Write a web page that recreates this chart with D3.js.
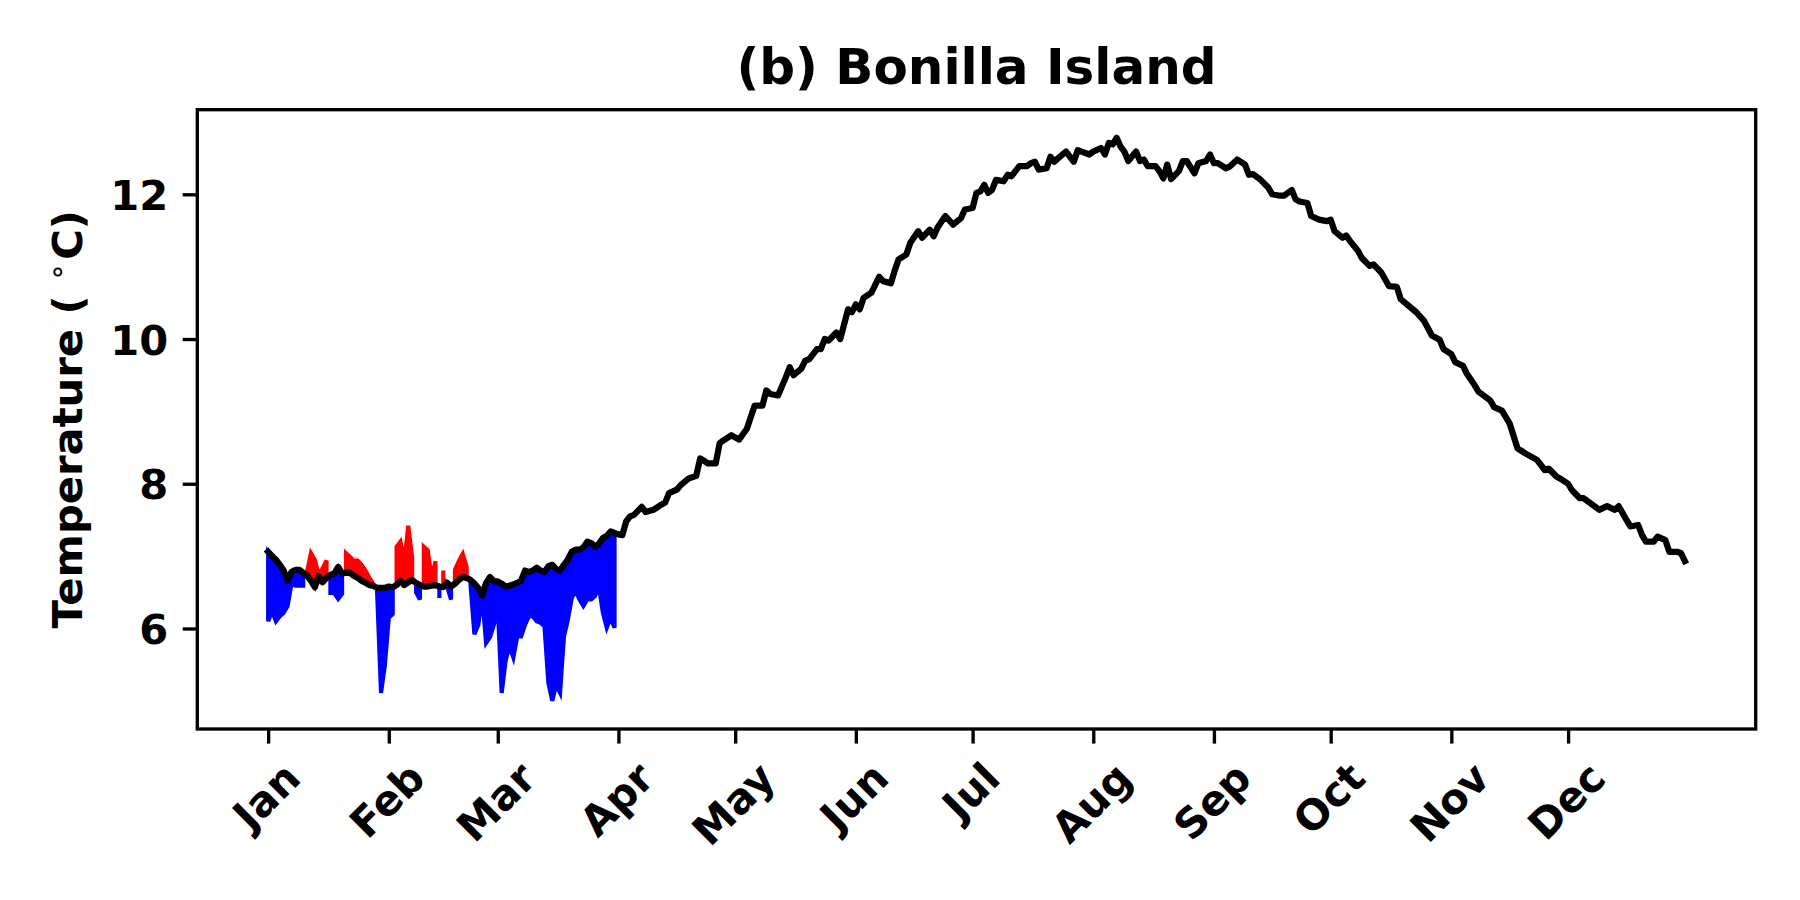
<!DOCTYPE html>
<html>
<head>
<meta charset="utf-8">
<script src="https://cdn.jsdelivr.net/npm/d3@7"></script>
<style>
html,body{margin:0;padding:0;background:#fff;}
svg{display:block;}
text{font-family:"DejaVu Sans",sans-serif;font-weight:bold;fill:#000;}
</style>
</head>
<body>
<svg id="chart" width="1800" height="900"></svg>
<script>
// ---------------- data ----------------
const chartTitle = "(b) Bonilla Island";
const monthLabels = ["Jan","Feb","Mar","Apr","May","Jun","Jul","Aug","Sep","Oct","Nov","Dec"];
const monthStartDays = [0,31,59,90,120,151,181,212,243,273,304,334];
const yTickValues = [6,8,10,12];

// climatology (black line): day of year (0 = Jan 1) and temperature
const climDays = [
  0,1,2,3,4,5,6,7,8,9,10,11,12,13,14,15,16,17,18,19,20,21,22,23,24,25,26,27,28,29,
  30,31,32,33,34,35,36,37,38,39,40,41,42,43,44,45,46,47,48,49,50,51,52,53,54,55,56,57,58,59,
  60,61,62,63,64,65,66,67,68,69,70,71,72,73,74,75,76,77,78,79,80,81,82,83,84,85,86,87,88,89,90,
  91,92,93,94,96,97,99,101,102,103,105,106,108,110,111,113,115,116,117,119,121,123,125,127,128,129,
  131,133,134,135,137,138,139,141,142,143,144,146,147,149,150,151,152,153,155,157,158,160,161,162,
  164,165,167,168,170,171,172,174,176,178,179,181,182,183,184,185,186,187,189,190,191,193,195,196,
  197,198,200,201,202,203,205,207,208,209,211,212,214,215,216,217,218,219,220,221,223,224,225,226,
  228,229,230,231,232,234,235,236,238,239,241,242,243,244,246,247,249,251,252,253,255,257,258,260,
  261,263,264,265,267,268,270,272,273,274,276,277,278,280,281,283,284,286,288,290,291,295,297,299,
  301,302,304,305,307,308,310,311,314,315,317,319,321,323,326,328,329,331,332,334,335,337,338,342,
  344,346,347,349,350,352,353,354,356,357,359,360,362,363,364
];
const climTemps = [
  7.06,7.00,6.95,6.88,6.80,6.66,6.78,6.81,6.81,6.77,6.73,6.66,6.57,6.72,6.64,6.70,6.74,6.76,6.85,6.76,
  6.77,6.77,6.73,6.70,6.66,6.63,6.60,6.59,6.56,6.56,
  6.56,6.58,6.57,6.60,6.66,6.60,6.64,6.67,6.63,6.60,6.58,6.58,6.59,6.60,6.58,6.57,6.63,6.58,6.62,6.67,
  6.71,6.70,6.67,6.62,6.56,6.46,6.63,6.71,6.65,6.65,
  6.62,6.58,6.59,6.61,6.63,6.66,6.80,6.78,6.80,6.84,6.80,6.78,6.86,6.88,6.82,6.80,6.88,6.95,7.06,7.09,
  7.09,7.12,7.20,7.18,7.13,7.17,7.25,7.28,7.34,7.32,7.30,
  7.29,7.48,7.55,7.57,7.68,7.61,7.64,7.71,7.74,7.87,7.92,7.98,8.07,8.11,8.35,8.28,8.28,8.56,8.60,8.67,
  8.61,8.76,9.08,9.08,9.29,9.24,
  9.22,9.47,9.61,9.50,9.59,9.70,9.72,9.86,9.86,10.00,9.98,10.09,10.00,10.41,10.37,10.48,10.41,10.57,10.64,10.86,
  10.80,10.77,10.95,11.10,
  11.17,11.33,11.49,11.40,11.51,11.42,11.54,11.70,11.58,11.67,11.79,11.81,12.02,12.04,12.13,12.02,12.06,12.20,12.18,12.27,
  12.25,12.39,12.39,12.43,
  12.45,12.34,12.36,12.52,12.45,12.50,12.59,12.45,12.61,12.59,12.55,12.59,12.64,12.55,12.71,12.69,12.78,12.66,12.59,12.46,
  12.59,12.46,12.48,12.39,
  12.39,12.32,12.22,12.41,12.21,12.32,12.46,12.46,12.29,12.43,12.46,12.55,12.43,12.43,12.36,12.38,12.48,12.41,12.27,12.28,
  12.20,12.09,12.00,11.98,
  11.98,12.06,11.93,11.90,11.88,11.70,11.65,11.63,11.65,11.49,11.40,11.43,11.35,11.22,11.12,11.01,11.03,10.92,10.73,10.72,
  10.55,10.37,10.25,10.05,
  9.99,9.86,9.79,9.68,9.63,9.52,9.36,9.27,9.15,9.06,9.01,8.83,8.49,8.42,8.33,8.19,8.21,8.10,8.07,8.00,
  7.91,7.80,7.80,7.64,
  7.69,7.64,7.69,7.50,7.41,7.43,7.29,7.20,7.20,7.27,7.22,7.06,7.06,7.04,6.93
];

// observed daily temperature, Jan 1 to Mar 31 (index = day of year)
const obsTemps = [
  6.10,6.24,6.10,6.17,6.22,6.31,6.62,6.59,6.59,6.59,
  6.78,7.04,6.95,6.74,6.83,6.94,6.49,6.49,6.41,6.48,
  7.04,6.99,6.94,6.94,6.88,6.80,6.70,6.62,6.50,5.11,
  5.50,6.15,6.20,7.13,7.20,6.92,7.42,6.98,6.50,6.40,
  7.13,7.08,6.70,6.93,6.42,6.80,6.58,6.40,6.81,6.93,
  7.03,6.85,6.60,5.92,6.05,6.44,5.80,5.88,6.05,6.30,
  5.11,5.55,5.76,5.60,5.89,5.89,6.05,6.17,6.17,6.10,
  6.08,6.03,5.25,5.00,5.22,5.11,5.89,6.12,6.42,6.52,
  6.40,6.31,6.40,6.40,6.45,6.58,6.22,6.01,6.15,6.01
];

// ---------------- layout ----------------
const svg = d3.select("#chart");
const box = {left:197.3, right:1755.7, top:109.7, bottom:729};
const pt = 300/72; // figure rendered at 300 dpi

const dayExtent = d3.extent(climDays);
const dPad = (dayExtent[1]-dayExtent[0])*0.05;
const x = d3.scaleLinear()
  .domain([dayExtent[0]-dPad, dayExtent[1]+dPad])
  .range([box.left, box.right]);

const tExtent = d3.extent(climTemps.concat(obsTemps));
const tPad = (tExtent[1]-tExtent[0])*0.05;
const y = d3.scaleLinear()
  .domain([tExtent[0]-tPad, tExtent[1]+tPad])
  .range([box.bottom, box.top]);

// ---------------- anomaly fills ----------------
const climByDay = new Map(climDays.map((d,i)=>[d, climTemps[i]]));
const obsRows = obsTemps.map((v,i)=>({day:i, obs:v, clim:climByDay.get(i)}));

const area = d3.area()
  .x(r=>x(r.day))
  .y0(r=>y(r.clim))
  .y1(r=>y(r.obs));

svg.append("path")
  .datum(obsRows)
  .attr("d", area.defined(r=>r.obs>r.clim))
  .attr("fill","#ff0000").attr("stroke","#ff0000")
  .attr("stroke-width",1*pt).attr("stroke-linejoin","miter");

svg.append("path")
  .datum(obsRows)
  .attr("d", area.defined(r=>r.obs<r.clim))
  .attr("fill","#0000ff").attr("stroke","#0000ff")
  .attr("stroke-width",1*pt).attr("stroke-linejoin","miter");

// ---------------- climatology line ----------------
const line = d3.line().x(d=>x(d[0])).y(d=>y(d[1]));
svg.append("path")
  .datum(climDays.map((d,i)=>[d, climTemps[i]]))
  .attr("d", line)
  .attr("fill","none").attr("stroke","#000")
  .attr("stroke-width",1.5*pt)
  .attr("stroke-linejoin","round").attr("stroke-linecap","square");

// ---------------- frame ----------------
svg.append("rect")
  .attr("x",box.left).attr("y",box.top)
  .attr("width",box.right-box.left).attr("height",box.bottom-box.top)
  .attr("fill","none").attr("stroke","#000").attr("stroke-width",0.8*pt);

// ---------------- axes ----------------
const tickLen = 3.5*pt, tickPad = 3.5*pt, tickFont = 10*pt;

const xAxisG = svg.append("g")
  .attr("transform",`translate(0,${box.bottom})`)
  .call(d3.axisBottom(x).tickValues(monthStartDays)
        .tickFormat((d,i)=>monthLabels[i]).tickSize(tickLen).tickPadding(tickPad));
xAxisG.select(".domain").remove();
xAxisG.attr("font-size",null).attr("font-family",null);
xAxisG.selectAll(".tick line").attr("stroke-width",0.8*pt);
xAxisG.selectAll(".tick text")
  .style("font-size",tickFont+"px")
  .each(function(){
    const w = this.getComputedTextLength();
    const h = 0.968*tickFont;
    const H = (w+h)/Math.SQRT2;
    d3.select(this)
      .attr("y",null).attr("dy","0.276em")
      .attr("text-anchor","middle")
      .attr("transform",`translate(0,${tickLen+tickPad+H/2}) rotate(-45)`);
  });

const yAxisG = svg.append("g")
  .attr("transform",`translate(${box.left},0)`)
  .call(d3.axisLeft(y).tickValues(yTickValues).tickFormat(d3.format("d"))
        .tickSize(tickLen).tickPadding(tickPad));
yAxisG.select(".domain").remove();
yAxisG.attr("font-size",null).attr("font-family",null);
yAxisG.selectAll(".tick line").attr("stroke-width",0.8*pt);
yAxisG.selectAll(".tick text")
  .style("font-size",tickFont+"px")
  .attr("dy","0.365em");

// ---------------- labels ----------------
svg.append("text")
  .attr("x",(box.left+box.right)/2).attr("y",84)
  .attr("text-anchor","middle")
  .style("font-size",(12*pt)+"px")
  .text(chartTitle);

const yl = svg.append("text")
  .attr("transform",`translate(82,${(box.top+box.bottom)/2}) rotate(-90)`)
  .attr("text-anchor","middle")
  .style("font-size",(10*pt)+"px");
yl.append("tspan").text("Temperature ( ");
yl.append("tspan").text("\u2218").style("font-size","29px").style("font-weight","normal").attr("dy",-15);
yl.append("tspan").text("C)").attr("dy",15).attr("dx",3);
</script>
</body>
</html>
